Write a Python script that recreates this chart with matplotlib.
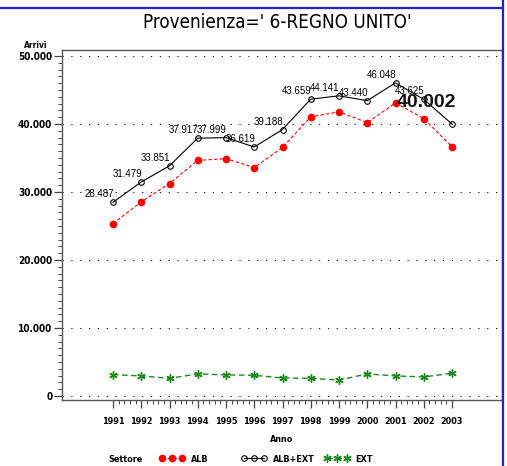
import numpy as np
import matplotlib
matplotlib.use('Agg')
import matplotlib.pyplot as plt
from matplotlib.ticker import MultipleLocator, FixedLocator, FuncFormatter
from matplotlib.lines import Line2D

# dati
anni = [1991, 1992, 1993, 1994, 1995, 1996, 1997, 1998, 1999, 2000, 2001, 2002, 2003]
alb_ext = [28487, 31479, 33851, 37917, 37999, 36619, 39188, 43659, 44141, 43440, 46048, 43625, 40002]
alb = [25350, 28550, 31250, 34650, 34900, 33600, 36550, 41050, 41800, 40200, 43100, 40800, 36650]
ext = [3150, 2950, 2600, 3250, 3100, 3050, 2650, 2600, 2350, 3250, 2950, 2800, 3350]
settori = ['ALB', 'ALB+EXT', 'EXT']

NARROW = ['DejaVu Sans']
ARIAL = ['Liberation Sans', 'DejaVu Sans']

def dotted(n):
    # 50.000 style
    return f"{int(n):,}".replace(',', '.')

fig = plt.figure(figsize=(5.07, 4.66), dpi=100)
ax = fig.add_axes([62/507, 1-400/466, 440/507, 350/466])

# stili delle serie
stili = [
    dict(color='red', lw=0.8, ls=(0, (3, 2)), marker='o', ms=4.5, mfc='red', mec='red'),
    dict(color='black', lw=0.8, marker='o', ms=4, mfc='none', mec='black', mew=0.8),
    dict(color='#1a8a1a', lw=1.0, ls=(0, (4, 2.5)), marker=(6, 2, 0), ms=6,
         mec='#1a8a1a', mew=1.0),
]

ax.plot(anni, alb, **stili[0])
ax.plot(anni, alb_ext, **stili[1])
ax.plot(anni, ext, **stili[2])

# etichette dei valori
for i, (a, v) in enumerate(zip(anni, alb_ext)):
    if i == len(anni) - 1:
        ax.annotate(dotted(v), (a, v), xytext=(-26, 21), textcoords='offset pixels',
                    ha='center', va='center', fontsize=14, fontweight='bold',
                    family=ARIAL, color='#111111')
    else:
        ax.annotate(dotted(v), (a, v), xytext=(-14, 8), textcoords='offset pixels',
                    ha='center', va='center', fontsize=7, family=ARIAL)

# assi
ax.set_xlim(1991 - 51/28.25, 1991 + 389/28.25)
ax.set_ylim(-4/6.8*1000, 50000 + 6/6.8*1000)
ax.xaxis.set_major_locator(FixedLocator(anni))
ax.xaxis.set_minor_locator(FixedLocator(np.arange(1991, 2003.01, 0.2)))
ax.yaxis.set_major_locator(MultipleLocator(10000))
ax.yaxis.set_minor_locator(FixedLocator(np.arange(0, 50001, 1000)))
ax.yaxis.set_major_formatter(FuncFormatter(lambda v, p: dotted(v)))

ax.tick_params(axis='both', which='major', length=6, width=0.9, color='#444444', direction='out')
ax.tick_params(axis='both', which='minor', length=3, width=0.7, color='#444444', direction='out')
ax.tick_params(axis='y', pad=1)
ax.tick_params(axis='x', pad=6)
for lab in ax.get_xticklabels():
    lab.set_family(NARROW); lab.set_fontsize(6.5); lab.set_fontweight('bold')
    lab.set_fontstretch('condensed')
for lab in ax.get_yticklabels():
    lab.set_family(NARROW); lab.set_fontsize(7.2); lab.set_fontweight('bold')
    lab.set_fontstretch('condensed')

ax.grid(axis='y', which='major', color='black', lw=0.7, ls=(0, (1.2, 7.9)))
for s in ax.spines.values():
    s.set_color('#555555')
    s.set_linewidth(1.0)

ax.set_xlabel('Anno', family=NARROW, fontsize=6.5, fontweight='bold', labelpad=7,
              fontstretch='condensed')

# testi
fig.text(277/507, 1-22/466, "Provenienza=' 6-REGNO UNITO'", ha='center', va='center',
         family=NARROW, fontsize=13.5, fontstretch='condensed')
fig.text(36/507, 1-46/466, 'Arrivi', ha='center', va='center', family=NARROW,
         fontsize=6, fontweight='bold', fontstretch='condensed')
fig.text(108/507, 1-459/466, 'Settore', ha='left', va='center', family=NARROW,
         fontsize=6.5, fontweight='bold', fontstretch='condensed')

# legenda: una voce per volta, come nel grafico SAS
x_voce = [159, 241, 324]
for nome, st, xv in zip(settori, stili, x_voce):
    fig.legend([Line2D([], [], **st)], [nome], loc='center left',
               bbox_to_anchor=(xv/507, 1-459/466), frameon=False,
               numpoints=3, handlelength=2.9, handletextpad=0.6,
               borderpad=0, borderaxespad=0,
               prop={'family': NARROW, 'size': 6.5, 'weight': 'bold', 'stretch': 'condensed'})

# bordi blu della finestra
fig.add_artist(Line2D([0, 503/507], [1-8/466, 1-8/466], color='#2020dd', lw=1.6,
                      transform=fig.transFigure))
fig.add_artist(Line2D([503/507, 503/507], [0, 1], color='#2020dd', lw=1.6,
                      transform=fig.transFigure))

fig.savefig('out.png', dpi=100)
